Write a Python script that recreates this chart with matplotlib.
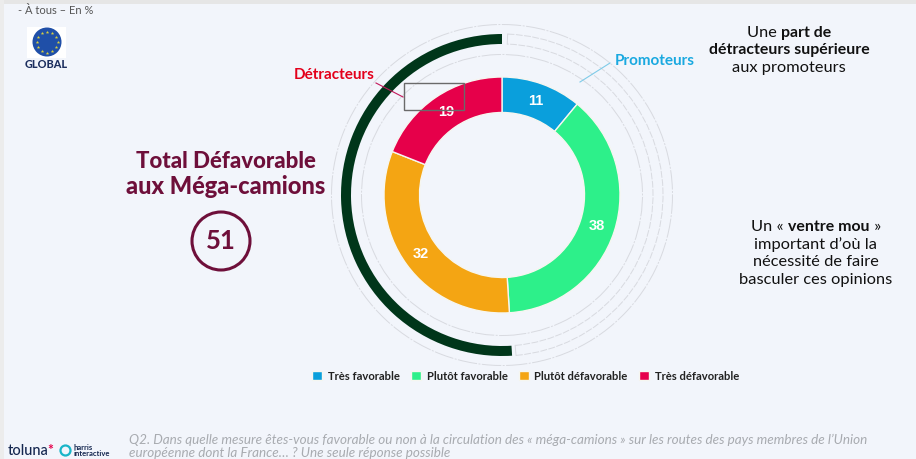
import numpy as np
import matplotlib
matplotlib.use("Agg")
import matplotlib.pyplot as plt
from matplotlib.patches import Wedge, Arc, Circle, Rectangle

plt.rcParams['font.family'] = ['Lato', 'DejaVu Sans']

categories = ['Très favorable', 'Plutôt favorable', 'Plutôt défavorable', 'Très défavorable']
values = [11, 38, 32, 19]
colors = ['#0a9fdc', '#2df08a', '#f4a513', '#e6004a']
total_defavorable = 51

BG = '#f2f5fb'
MAROON = '#6e0f3a'
W, H = 916, 459
CX, CY = 502, 195

fig = plt.figure(figsize=(W / 100, H / 100), dpi=100, facecolor=BG)

# full page layer, in pixels, y going down, kept above the donut
page = fig.add_axes([0, 0, 1, 1], zorder=2)
page.set_xlim(0, W)
page.set_ylim(H, 0)
page.axis('off')
page.add_patch(Rectangle((0, 0), W, 4, color='#e6e6e6', lw=0))
page.add_patch(Rectangle((0, 0), 4, H, color='#ececec', lw=0))

# donut layer centred on the rings
half = 185
donut = fig.add_axes([(CX - half) / W, 1 - (CY + half) / H, 2 * half / W, 2 * half / H], zorder=1)

wedges, _, autotexts = donut.pie(
    values, colors=colors, radius=118, startangle=90, counterclock=False,
    center=(0, 0), frame=True,
    wedgeprops=dict(width=35.5, edgecolor='#f6f6f0', linewidth=1),
    autopct=lambda p: f'{round(p)}', pctdistance=100 / 118,
    textprops=dict(color='white', fontsize=10.5, fontweight='bold', family='Liberation Sans'))
donut.set_xlim(-half, half)
donut.set_ylim(-half, half)
donut.axis('off')

# thick arc for the unfavourable total, and its empty dashed counterpart
span = total_defavorable / 100 * 360
donut.add_patch(Wedge((0, 0), 161, 90, 90 + span, width=10, color='#00361a', lw=0))
GREY = '#d8dae0'
for r in (140.5, 170.5):
    donut.add_patch(Arc((0, 0), 2 * r, 2 * r, theta1=-88, theta2=272, color=GREY, lw=0.7,
                        ls=(0, (20, 1.5, 2, 1.5))))
a1, a2 = -85, 88
for r in (151, 161):
    donut.add_patch(Arc((0, 0), 2 * r, 2 * r, theta1=a1, theta2=a2, color=GREY, lw=0.7,
                        ls=(0, (7, 1.5))))
for a in (a1, a2):
    t = np.radians(a)
    donut.plot([151 * np.cos(t), 161 * np.cos(t)], [151 * np.sin(t), 161 * np.sin(t)],
               color=GREY, lw=0.7)

# callouts
page.add_patch(Rectangle((404, 83), 60, 27, fill=False, ec='#6a6a6a', lw=1))
page.plot([376, 403], [83, 97], color='#c2185b', lw=0.8)
page.plot([610, 580], [63, 82], color='#7fcbe8', lw=0.8)
page.text(334.5, 75, 'Détracteurs', color='#e3001b', fontsize=11, fontweight='bold', ha='center', va='center')
page.text(655, 61, 'Promoteurs', color='#1aa9e0', fontsize=11, fontweight='bold', ha='center', va='center')

# left block
page.text(226, 161, 'Total Défavorable', color=MAROON, fontsize=16, fontweight='black', ha='center', va='center')
page.text(226, 186, 'aux Méga-camions', color=MAROON, fontsize=17, fontweight='black', ha='center', va='center')
page.add_patch(Circle((221, 241), 29, fill=False, ec=MAROON, lw=2.2))
page.text(221, 241, str(total_defavorable), color=MAROON, fontsize=18.5, fontweight='bold', ha='center', va='center')


def mixed_line(x, y, parts):
    # one centred line made of regular and bold runs
    renderer = fig.canvas.get_renderer()
    runs = []
    for txt, weight in parts:
        size = 11.4 if weight == 'bold' else 11.8
        t = page.text(0, y, txt, fontsize=size, fontweight=weight, color='#111111', va='center', ha='left')
        runs.append((t, t.get_window_extent(renderer).width))
    left = x - sum(w for _, w in runs) / 2
    for t, w in runs:
        t.set_x(left)
        left += w


R, B = 'normal', 'bold'
mixed_line(789, 33, [('Une ', R), ('part de', B)])
mixed_line(789, 50, [('détracteurs supérieure', B)])
mixed_line(789, 68, [('aux promoteurs', R)])
mixed_line(816, 227, [('Un « ', R), ('ventre mou', B), (' »', R)])
mixed_line(816, 245, [('important d’où la', R)])
mixed_line(816, 262, [('nécessité de faire', R)])
mixed_line(816, 280, [('basculer ces opinions', R)])

# legend
fig.legend(wedges, categories, loc='center', bbox_to_anchor=(525.5 / W, 1 - 376 / H), ncol=4,
           frameon=False, handlelength=0.9, handleheight=0.9, handletextpad=0.5, columnspacing=1.0,
           prop=dict(size=8.1, weight='bold'), labelcolor='#222222')

# header and EU badge
page.text(18, 11, '- À tous – En %', color='#555555', fontsize=8, va='center')
page.add_patch(Rectangle((27, 27), 39, 31, color='white', lw=0))
page.add_patch(Circle((47, 42), 14.5, color='#1f4fa8', lw=0))
star_angles = np.radians(np.arange(0, 360, 30))
page.scatter(47 + 10.5 * np.cos(star_angles), 42 + 10.5 * np.sin(star_angles), s=7, color='#d8d040', marker='*', lw=0)
page.text(46.5, 64.5, 'GLOBAL', color='#1d2f5f', fontsize=7.8, fontweight='black', ha='center', va='center')

# footer
page.text(8, 451, 'toluna', color='#14264f', fontsize=10.5, va='center', fontweight='medium')
page.text(47, 450, '*', color='#e6004a', fontsize=10, va='center', fontweight='bold')
page.add_patch(Circle((65.5, 450.5), 5, fill=False, ec='#19b5c8', lw=1.6))
page.text(74, 447.5, 'harris', color='#14264f', fontsize=5.5, fontweight='bold', va='center')
page.text(74, 453.5, 'interactive', color='#14264f', fontsize=5.5, fontweight='bold', va='center')
page.text(129, 440, 'Q2. Dans quelle mesure êtes-vous favorable ou non à la circulation des « méga-camions » sur les routes des pays membres de l’Union',
          color='#a8abb0', fontsize=9.75, style='italic', va='center')
page.text(129, 453, 'européenne dont la France… ? Une seule réponse possible',
          color='#a8abb0', fontsize=9.75, style='italic', va='center')

fig.savefig('out.png', dpi=100, facecolor=BG)
